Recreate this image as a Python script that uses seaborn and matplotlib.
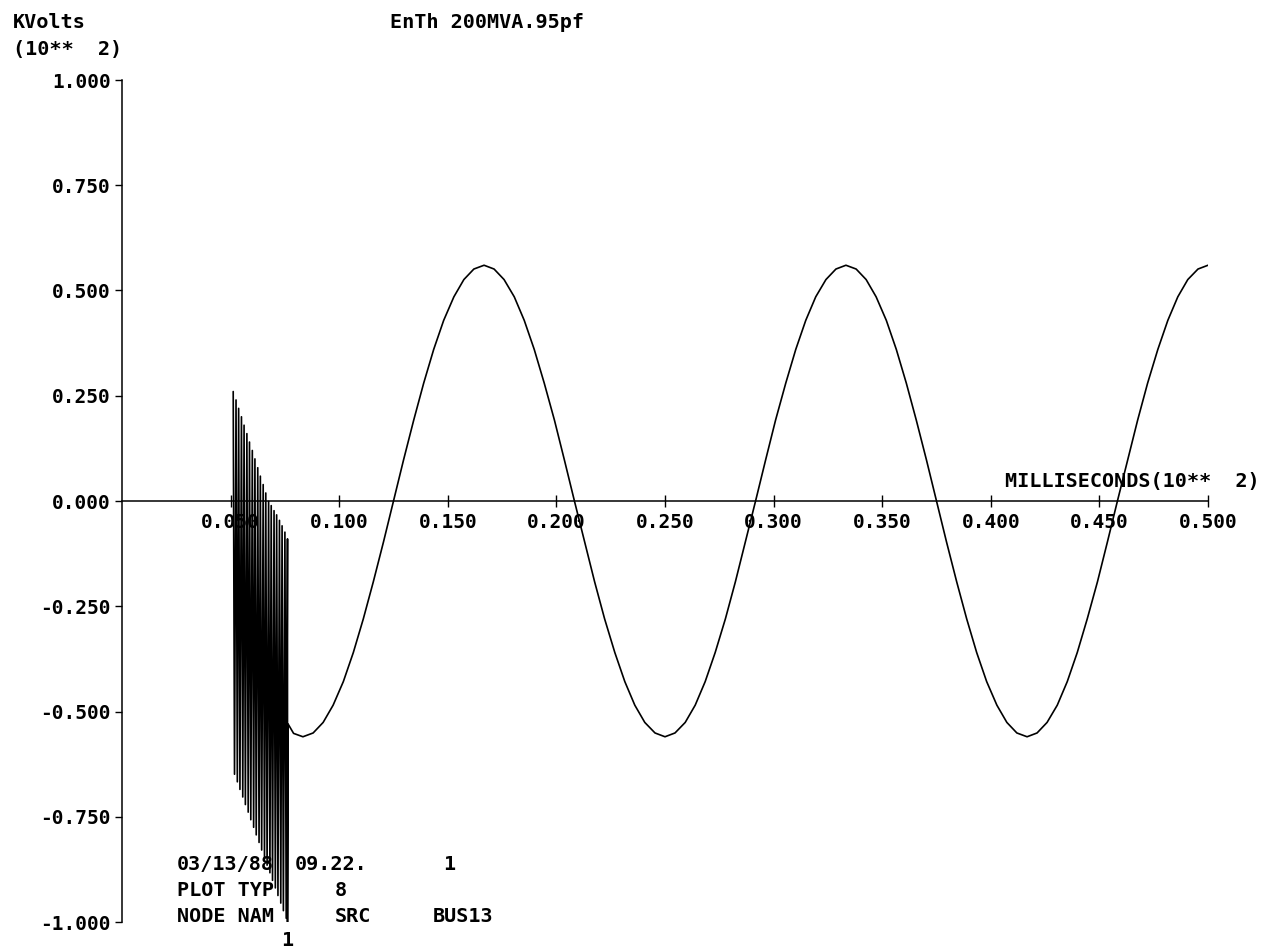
import numpy as np
import pandas as pd
import matplotlib
matplotlib.use('Agg')
import matplotlib.pyplot as plt
import seaborn as sns

# ─── Data (time in ms*100, volts in kV*100) ─────────────────────────────────
# fast switching transient: zig-zag between upper and lower envelope
band_t = [0.0512, 0.0518, 0.0525, 0.0531, 0.0537, 0.0543, 0.0550, 0.0556,
          0.0562, 0.0568, 0.0575, 0.0581, 0.0587, 0.0593, 0.0600, 0.0606,
          0.0612, 0.0618, 0.0625, 0.0631, 0.0637, 0.0643, 0.0650, 0.0656,
          0.0662, 0.0668, 0.0675, 0.0681, 0.0687, 0.0693, 0.0700, 0.0706,
          0.0712, 0.0718, 0.0725, 0.0731, 0.0737, 0.0743, 0.0750, 0.0756,
          0.0762, 0.0762, 0.0765, 0.0790]
band_v = [0.260, -0.649, 0.240, -0.667, 0.220, -0.685, 0.200, -0.703,
          0.180, -0.721, 0.160, -0.739, 0.140, -0.757, 0.120, -0.775,
          0.100, -0.793, 0.079, -0.811, 0.059, -0.829, 0.039, -0.847,
          0.019, -0.865, -0.001, -0.883, -0.011, -0.901, -0.023, -0.919,
          -0.033, -0.937, -0.046, -0.955, -0.059, -0.973, -0.074, -0.991,
          -0.090, -1.000, -0.530, -0.552]

# steady 60 Hz wave after the transient
sine_t = [0.0833, 0.0880, 0.0926, 0.0972, 0.1019, 0.1065, 0.1111, 0.1157, 0.1204, 0.1250,
          0.1296, 0.1343, 0.1389, 0.1435, 0.1481, 0.1528, 0.1574, 0.1620, 0.1667,
          0.1713, 0.1759, 0.1806, 0.1852, 0.1898, 0.1944, 0.1991, 0.2037, 0.2083,
          0.2130, 0.2176, 0.2222, 0.2269, 0.2315, 0.2361, 0.2407, 0.2454, 0.2500,
          0.2546, 0.2593, 0.2639, 0.2685, 0.2731, 0.2778, 0.2824, 0.2870, 0.2917,
          0.2963, 0.3009, 0.3056, 0.3102, 0.3148, 0.3194, 0.3241, 0.3287, 0.3333,
          0.3380, 0.3426, 0.3472, 0.3519, 0.3565, 0.3611, 0.3657, 0.3704, 0.3750,
          0.3796, 0.3843, 0.3889, 0.3935, 0.3981, 0.4028, 0.4074, 0.4120, 0.4167,
          0.4213, 0.4259, 0.4306, 0.4352, 0.4398, 0.4444, 0.4491, 0.4537, 0.4583,
          0.4630, 0.4676, 0.4722, 0.4769, 0.4815, 0.4861, 0.4907, 0.4954, 0.5000]
sine_v = [-0.560, -0.551, -0.526, -0.485, -0.429, -0.360, -0.280, -0.192, -0.097, 0.000,
          0.097, 0.192, 0.280, 0.360, 0.429, 0.485, 0.526, 0.551, 0.560,
          0.551, 0.526, 0.485, 0.429, 0.360, 0.280, 0.192, 0.097, 0.000,
          -0.097, -0.192, -0.280, -0.360, -0.429, -0.485, -0.526, -0.551, -0.560,
          -0.551, -0.526, -0.485, -0.429, -0.360, -0.280, -0.192, -0.097, 0.000,
          0.097, 0.192, 0.280, 0.360, 0.429, 0.485, 0.526, 0.551, 0.560,
          0.551, 0.526, 0.485, 0.429, 0.360, 0.280, 0.192, 0.097, 0.000,
          -0.097, -0.192, -0.280, -0.360, -0.429, -0.485, -0.526, -0.551, -0.560,
          -0.551, -0.526, -0.485, -0.429, -0.360, -0.280, -0.192, -0.097, 0.000,
          0.097, 0.192, 0.280, 0.360, 0.429, 0.485, 0.526, 0.551, 0.560]

x_ticks = [0.05, 0.10, 0.15, 0.20, 0.25, 0.30, 0.35, 0.40, 0.45, 0.50]
x_ticklabels = ['0.050', '0.100', '0.150', '0.200', '0.250',
                '0.300', '0.350', '0.400', '0.450', '0.500']
y_ticks = [1.0, 0.75, 0.5, 0.25, 0.0, -0.25, -0.5, -0.75, -1.0]
y_ticklabels = ['1.000', '0.750', '0.500', '0.250', '0.000',
                '-0.250', '-0.500', '-0.750', '-1.000']

# ─── Style ──────────────────────────────────────────────────────────────────
sns.set_style('white')
plt.rcParams['font.family'] = ['DejaVu Sans Mono']
plt.rcParams['font.weight'] = 'bold'
plt.rcParams['axes.unicode_minus'] = False

W, H = 1266, 947
fig = plt.figure(figsize=(W / 100, H / 100), dpi=100)
ax = fig.add_axes([122 / W, 1 - 922 / H, (1208 - 122) / W, (922 - 80) / H])
ax.set_facecolor('white')

df = pd.DataFrame({'t': band_t + sine_t, 'v': band_v + sine_v})
sns.lineplot(data=df, x='t', y='v', sort=False, estimator=None,
             color='black', lw=1.2, ax=ax, zorder=4)

ax.set_xlim(0, 0.5)
ax.set_ylim(-1, 1)
ax.spines['top'].set_visible(False)
ax.spines['right'].set_visible(False)
ax.spines['bottom'].set_position(('data', 0))
ax.spines['left'].set_position(('data', 0))
for s in ['left', 'bottom']:
    ax.spines[s].set_color('black')
    ax.spines[s].set_linewidth(1.1)

ax.set_xticks(x_ticks)
ax.set_xticklabels(x_ticklabels)
ax.set_yticks(y_ticks)
ax.set_yticklabels(y_ticklabels)
ax.tick_params(axis='x', bottom=True, direction='inout', length=8, width=1, pad=5,
               labelsize=14, colors='black')
ax.tick_params(axis='y', left=True, direction='out', length=5, width=1, pad=3,
               labelsize=14, colors='black')
ax.set_xlabel('')
ax.set_ylabel('')


def ftext(px, py, s, size=14.5):
    ax.text(px / W, 1 - py / H, s, transform=fig.transFigure, ha='left',
            va='center', fontsize=size, fontweight='bold', color='black', zorder=3)


ftext(13, 23, 'KVolts')
ftext(13, 50, '(10**  2)')
ftext(390, 22, 'EnTh 200MVA.95pf')
ftext(1005, 481, 'MILLISECONDS(10**  2)')

# plot info block
ftext(177, 864, '03/13/88')
ftext(295, 864, '09.22.')
ftext(443, 864, '1')
ftext(177, 890, 'PLOT TYP')
ftext(335, 890, '8')
ftext(177, 916, 'NODE NAM')
ftext(335, 916, 'SRC')
ftext(433, 916, 'BUS13')
ftext(281, 940, '1')

plt.savefig('out.png', dpi=100)
